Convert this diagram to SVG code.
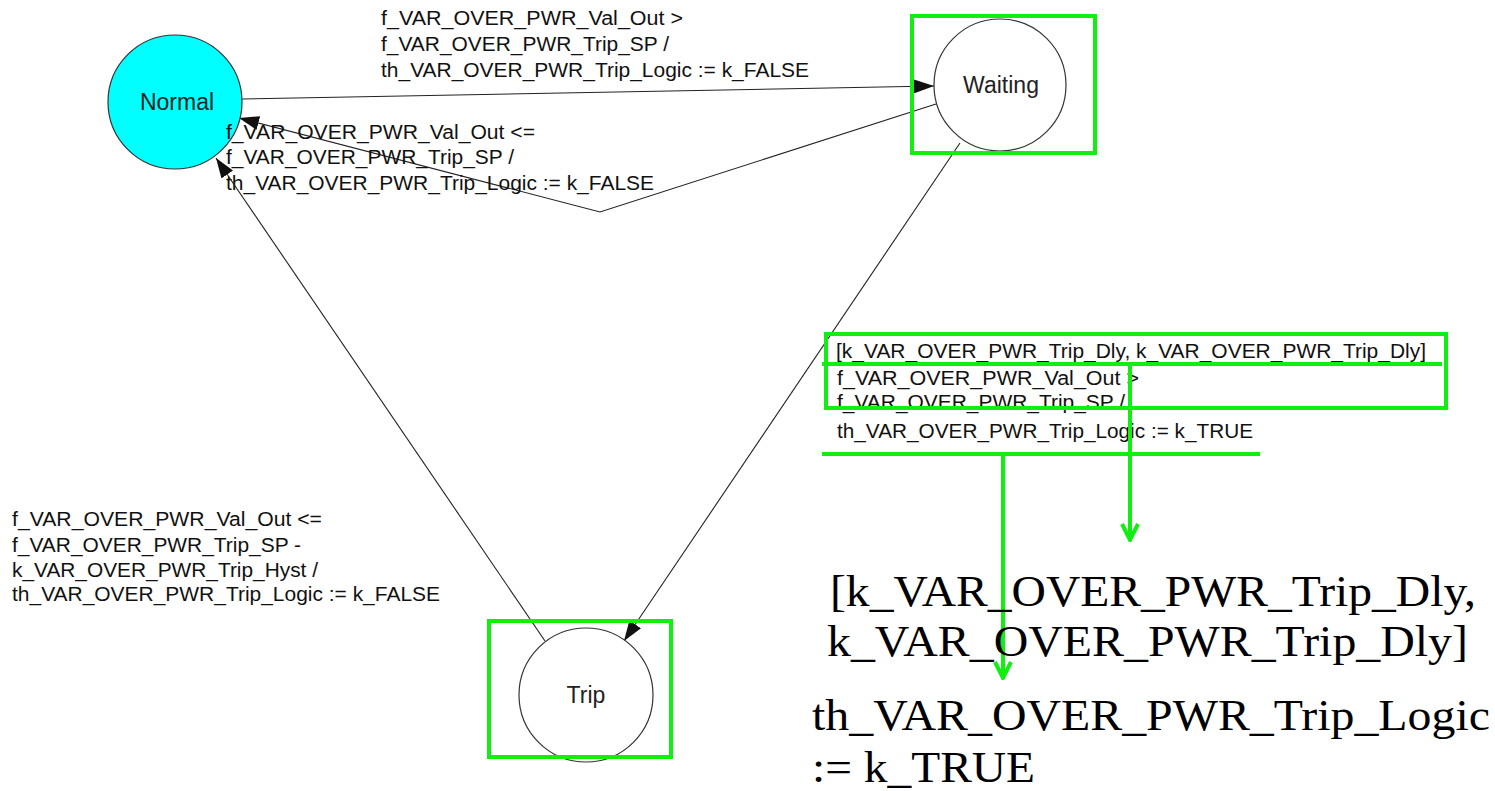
<svg xmlns="http://www.w3.org/2000/svg" width="1495" height="791" viewBox="0 0 1495 791">
  <defs>
    <style>
      .state { stroke: #333; stroke-width: 1.2; }
      .name { font-family: "Liberation Sans", Arial, sans-serif; font-size: 23px; fill: #222; text-anchor: middle; }
      .edge { fill: none; stroke: #222; stroke-width: 1.1; }
      .lbl { font-family: "Liberation Sans", Arial, sans-serif; font-size: 20px; fill: #111; }
      .mark { fill: none; stroke: #11ee11; stroke-width: 4; }
      .big { font-family: "Liberation Serif", "Times New Roman", serif; font-size: 45px; fill: #000; }
    </style>
    <marker id="head" viewBox="0 0 20 14" refX="20" refY="7" markerWidth="20" markerHeight="14" markerUnits="userSpaceOnUse" orient="auto">
      <path d="M0,0 L20,7 L0,14 Z" fill="#111"/>
    </marker>
    <marker id="vhead" viewBox="0 0 20 20" refX="10" refY="18" markerWidth="20" markerHeight="20" markerUnits="userSpaceOnUse" orient="0">
      <path d="M2,2 L10,18 L18,2" fill="none" stroke="#11ee11" stroke-width="4"/>
    </marker>
  </defs>

  <rect width="1495" height="791" fill="#fff"/>

  <!-- transitions -->
  <g id="connectors">
    <line class="edge" x1="242" y1="99" x2="934" y2="86" marker-end="url(#head)"/>
    <polyline class="edge" points="936,104 600,212 239,118" marker-end="url(#head)"/>
    <line class="edge" x1="545" y1="641" x2="216" y2="158" marker-end="url(#head)"/>
    <line class="edge" x1="960" y1="143" x2="624" y2="641" marker-end="url(#head)"/>
  </g>

  <!-- states -->
  <g id="normal">
    <circle class="state" cx="175" cy="102" r="67" fill="#00ffff"/>
    <text class="name" x="177" y="110">Normal</text>
  </g>
  <g id="waiting">
    <circle class="state" cx="1000" cy="85" r="66" fill="#fff"/>
    <text class="name" x="1001" y="93">Waiting</text>
  </g>
  <g id="trip">
    <circle class="state" cx="586" cy="695" r="67" fill="#fff"/>
    <text class="name" x="586" y="703">Trip</text>
  </g>

  <!-- transition labels -->
  <g id="label-normal-waiting" class="lbl">
    <text x="381" y="25" textLength="302" lengthAdjust="spacingAndGlyphs">f_VAR_OVER_PWR_Val_Out &gt;</text>
    <text x="381" y="51" textLength="288" lengthAdjust="spacingAndGlyphs">f_VAR_OVER_PWR_Trip_SP /</text>
    <text x="381" y="77" textLength="428" lengthAdjust="spacingAndGlyphs">th_VAR_OVER_PWR_Trip_Logic := k_FALSE</text>
  </g>
  <g id="label-waiting-normal" class="lbl">
    <text x="226" y="139" textLength="309" lengthAdjust="spacingAndGlyphs">f_VAR_OVER_PWR_Val_Out &lt;=</text>
    <text x="226" y="164" textLength="288" lengthAdjust="spacingAndGlyphs">f_VAR_OVER_PWR_Trip_SP /</text>
    <text x="226" y="190" textLength="428" lengthAdjust="spacingAndGlyphs">th_VAR_OVER_PWR_Trip_Logic := k_FALSE</text>
  </g>
  <g id="label-trip-normal" class="lbl">
    <text x="12" y="526" textLength="310" lengthAdjust="spacingAndGlyphs">f_VAR_OVER_PWR_Val_Out &lt;=</text>
    <text x="12" y="552" textLength="289" lengthAdjust="spacingAndGlyphs">f_VAR_OVER_PWR_Trip_SP -</text>
    <text x="12" y="577" textLength="306" lengthAdjust="spacingAndGlyphs">k_VAR_OVER_PWR_Trip_Hyst /</text>
    <text x="12" y="601" textLength="428" lengthAdjust="spacingAndGlyphs">th_VAR_OVER_PWR_Trip_Logic := k_FALSE</text>
  </g>
  <g id="label-waiting-trip" class="lbl">
    <text x="836" y="358" textLength="590" lengthAdjust="spacingAndGlyphs">[k_VAR_OVER_PWR_Trip_Dly, k_VAR_OVER_PWR_Trip_Dly]</text>
    <text x="837" y="385" textLength="302" lengthAdjust="spacingAndGlyphs">f_VAR_OVER_PWR_Val_Out &gt;</text>
    <text x="837" y="409" textLength="288" lengthAdjust="spacingAndGlyphs">f_VAR_OVER_PWR_Trip_SP /</text>
    <text x="837" y="438" textLength="416" lengthAdjust="spacingAndGlyphs">th_VAR_OVER_PWR_Trip_Logic := k_TRUE</text>
  </g>

  <!-- highlight boxes and call-out pointers -->
  <g id="highlights">
    <rect class="mark" x="912" y="16" width="183" height="137"/>
    <rect class="mark" x="489" y="621" width="182" height="136"/>
    <rect class="mark" x="826" y="334" width="620" height="74"/>
    <line class="mark" x1="822" y1="364" x2="1442" y2="364"/>
    <line class="mark" x1="822" y1="454" x2="1260" y2="454"/>
    <line class="mark" x1="1130" y1="364" x2="1130" y2="540" marker-end="url(#vhead)"/>
    <line class="mark" x1="1003" y1="454" x2="1003" y2="678" marker-end="url(#vhead)"/>
  </g>

  <!-- enlarged call-out text -->
  <g id="callout-delay" class="big">
    <text x="830" y="606" textLength="646" lengthAdjust="spacingAndGlyphs">[k_VAR_OVER_PWR_Trip_Dly,</text>
    <text x="827" y="656" textLength="641" lengthAdjust="spacingAndGlyphs">k_VAR_OVER_PWR_Trip_Dly]</text>
  </g>
  <g id="callout-action" class="big">
    <text x="812" y="730" textLength="678" lengthAdjust="spacingAndGlyphs">th_VAR_OVER_PWR_Trip_Logic</text>
    <text x="812" y="782" textLength="223" lengthAdjust="spacingAndGlyphs">:= k_TRUE</text>
  </g>
</svg>
